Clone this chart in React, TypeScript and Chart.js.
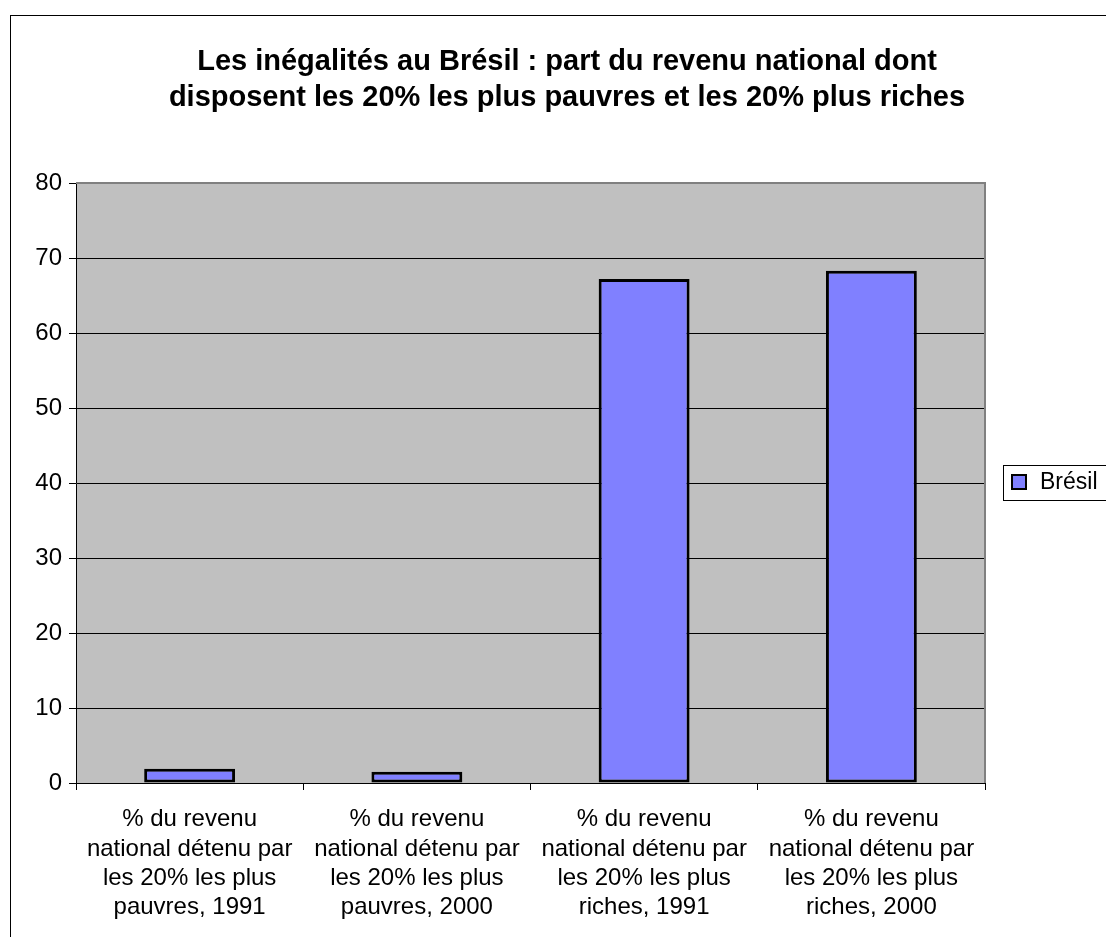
import React, { useEffect, useRef } from "react";
import { Chart, registerables } from "chart.js";

Chart.register(...registerables);

const TITLE_LINES = [
  "Les inégalités au Brésil : part du revenu national dont",
  "disposent les 20% les plus pauvres et les 20% plus riches",
];
const CATEGORIES: string[][] = [
  ["% du revenu", "national détenu par", "les 20% les plus", "pauvres, 1991"],
  ["% du revenu", "national détenu par", "les 20% les plus", "pauvres, 2000"],
  ["% du revenu", "national détenu par", "les 20% les plus", "riches, 1991"],
  ["% du revenu", "national détenu par", "les 20% les plus", "riches, 2000"],
];
const SERIES_LABEL = "Brésil";
const SERIES_VALUES = [1.9, 1.5, 67.2, 68.3];
const Y_MIN = 0;
const Y_MAX = 80;
const Y_STEP = 10;

const FONT = "'Liberation Sans', Arial, sans-serif";
const BAR_COLOR = "#8080FF";

const W = 1134;
const H = 960;

const decorPlugin = {
  id: "decor",
  beforeDraw(chart: any) {
    const { ctx, chartArea: a } = chart;
    ctx.save();
    ctx.fillStyle = "#ffffff";
    ctx.fillRect(0, 0, chart.width, chart.height);
    ctx.strokeStyle = "#000000";
    ctx.lineWidth = 1;
    ctx.strokeRect(10.5, 15.5, chart.width - 21, chart.height - 21);
    ctx.fillStyle = "#C0C0C0";
    ctx.fillRect(a.left, a.top, a.right - a.left, a.bottom - a.top);
    ctx.restore();
  },
  afterDatasetsDraw(chart: any) {
    const { ctx, chartArea: a } = chart;
    ctx.save();
    ctx.strokeStyle = "#808080";
    ctx.lineWidth = 2;
    ctx.beginPath();
    ctx.moveTo(a.left, a.top);
    ctx.lineTo(a.right, a.top);
    ctx.lineTo(a.right, a.bottom);
    ctx.stroke();
    ctx.restore();
  },
  afterDraw(chart: any) {
    const { ctx } = chart;
    ctx.save();
    ctx.fillStyle = "#000000";
    ctx.font = `bold 29px ${FONT}`;
    ctx.textAlign = "center";
    ctx.textBaseline = "middle";
    TITLE_LINES.forEach((line, i) => ctx.fillText(line, chart.width / 2, 62 + i * 36));
    const ds = chart.data.datasets[0];
    const top = 465;
    ctx.fillStyle = "#ffffff";
    ctx.fillRect(1003, top, 140, 35);
    ctx.strokeStyle = "#000000";
    ctx.lineWidth = 1;
    ctx.strokeRect(1003.5, top + 0.5, 140, 35);
    ctx.fillStyle = ds.backgroundColor;
    ctx.fillRect(1012, top + 10, 14, 14);
    ctx.lineWidth = 2;
    ctx.strokeRect(1012, top + 10, 14, 14);
    ctx.fillStyle = "#000000";
    ctx.font = `23px ${FONT}`;
    ctx.textAlign = "left";
    ctx.textBaseline = "middle";
    ctx.fillText(ds.label, 1040, top + 18);
    ctx.restore();
  },
};

export default function App() {
  const ref = useRef<HTMLCanvasElement>(null);
  useEffect(() => {
    if (!ref.current) return;
    const chart = new Chart(ref.current, {
      type: "bar",
      data: {
        labels: CATEGORIES,
        datasets: [
          {
            label: SERIES_LABEL,
            data: SERIES_VALUES,
            backgroundColor: BAR_COLOR,
            borderColor: "#000000",
            borderWidth: 3,
            borderSkipped: false,
            categoryPercentage: 1,
            barPercentage: 0.4,
          },
        ],
      },
      options: {
        animation: false,
        responsive: false,
        devicePixelRatio: 1,
        layout: { padding: { left: 0, right: 149, top: 183, bottom: 0 } },
        plugins: {
          legend: { display: false },
          title: { display: false },
          tooltip: { enabled: false },
        },
        scales: {
          x: {
            offset: true,
            grid: {
              offset: true,
              drawOnChartArea: false,
              drawTicks: true,
              tickLength: 7,
              color: "#000000",
            },
            border: { color: "#000000", width: 1 },
            ticks: {
              color: "#000000",
              font: { family: FONT, size: 24, lineHeight: 1.22 },
              padding: 15,
              maxRotation: 0,
              autoSkip: false,
            },
            afterFit(scale: any) {
              scale.height = 177;
            },
          },
          y: {
            min: Y_MIN,
            max: Y_MAX,
            grid: {
              color: "#000000",
              lineWidth: 1,
              tickLength: 7,
              drawTicks: true,
            },
            border: { color: "#000000", width: 1 },
            ticks: {
              stepSize: Y_STEP,
              color: "#000000",
              font: { family: FONT, size: 24 },
              padding: 7,
            },
            afterFit(scale: any) {
              scale.width = 76;
            },
          },
        },
      },
      plugins: [decorPlugin],
    });
    return () => chart.destroy();
  }, []);
  return (
    <div
      style={{
        position: "fixed",
        left: 0,
        top: 0,
        width: 1106,
        height: 937,
        overflow: "hidden",
        background: "#ffffff",
      }}
    >
      <canvas ref={ref} width={W} height={H} style={{ display: "block", width: W, height: H }} />
    </div>
  );
}
